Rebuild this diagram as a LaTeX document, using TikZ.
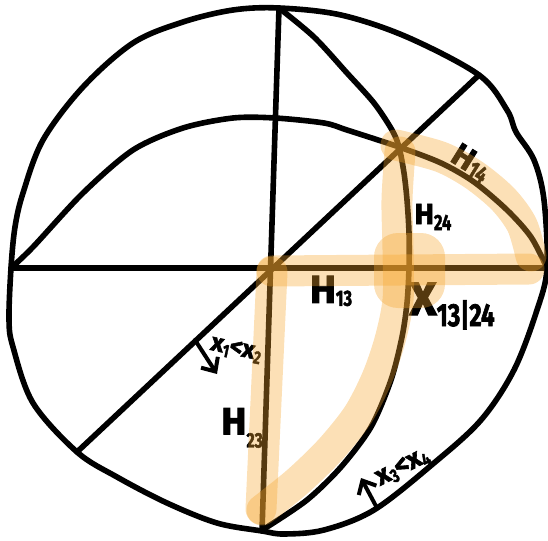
\documentclass[tikz,border=0pt]{standalone}
\usepackage{fontspec}
\setmainfont{Fira Sans}[BoldFeatures={FakeBold=2.2}]
\usetikzlibrary{arrows.meta}
\definecolor{hlc}{RGB}{245,165,45}
\newcommand\mk[2]{{\fontsize{#1}{#1}\selectfont #2}}
\newcommand\lsub[3]{\raisebox{-#1pt}{\scalebox{0.75}[1]{\fontsize{#2}{#2}\selectfont #3}}}
\begin{document}
\begin{tikzpicture}[x=1pt,y=-1pt,
  ink/.style={line width=5.6pt, line cap=round, line join=round},
  band/.style={draw=hlc, draw opacity=0.35, line width=31pt, line cap=round, line join=round},
  lab/.style={inner sep=0pt, font=\bfseries},
  note/.style={line width=4pt, line cap=round, -{Straight Barb[length=11pt,width=20pt,line width=4pt]}}
]
\useasboundingbox (0,0) rectangle (548,540);
% key points
\coordinate (T) at (279,8);
\coordinate (B) at (262,531);
\coordinate (L) at (11,268);
\coordinate (R) at (547,268);
\coordinate (O) at (271,268);
\coordinate (D1) at (479,75);
\coordinate (D2) at (77,452);
\coordinate (P) at (399,147);
\coordinate (X) at (409,268);
\coordinate (a1) at (195,340);
\coordinate (a2) at (217,374);
\coordinate (b1) at (377,508);
\coordinate (b2) at (361,478);
% outer circle
\draw[ink] plot[smooth cycle, tension=0.55] coordinates {(279,8) (341,15) (407,37) (479,75) (507,110) (516,132) (534,160) (544,200) (547,268) (537,310) (514,370) (481,420) (434,463) (374,510) (324,530) (284,534) (262,531) (217,523) (167,503) (117,477) (77,452) (33,403) (13,347) (9,320) (11,268) (15,227) (23,193) (43,140) (83,87) (133,43) (183,22) (233,10)};
% straight lines
\draw[ink] (L) -- (R);
\draw[ink] (T) -- (B);
\draw[ink] (D1) -- (D2);
% H14 curve
\draw[ink] plot[smooth, tension=0.5] coordinates {(11,268) (33,247) (83,193) (133,150) (183,128) (233,118) (275,118) (324,123) (347,130) (399,147) (441,163) (474,182) (507,210) (531,237) (547,268)};
% H24 curve
\draw[ink] plot[smooth, tension=0.5] coordinates {(279,8) (314,37) (347,73) (374,103) (392,130) (399,147) (404,173) (407,200) (409,233) (409,268) (407,303) (402,337) (391,380) (371,427) (341,467) (307,500) (267,527)};
% inequality arrows
\draw[note] (a1) -- (a2);
\draw[note] (b1) -- (b2);
% labels
\node[lab] (h13) at (331,291) {\mk{39}{H}\lsub{3}{22}{13}};
\node[lab] (x1324) at (452,306) {\mk{47}{X}\lsub{11}{32}{13|24}};
\node[lab] (h24) at (433,217) {\mk{29}{H}\lsub{6}{22}{24}};
\node[lab, rotate=-32] (h14) at (471,163) {\mk{32}{H}\lsub{3}{24}{14}};
\node[lab] (h23) at (242,428) {\mk{38}{H}\lsub{13}{21}{23}};
\node[lab, rotate=-12] (x12) at (236,350) {\mk{25}{x}\lsub{4}{18}{1}\mk{25}{<}\mk{25}{x}\lsub{4}{18}{2}};
\node[lab, rotate=27] (x34) at (403,468) {\mk{27}{x}\lsub{4}{19}{3}\mk{27}{<}\mk{27}{x}\lsub{4}{19}{4}};
% highlights
\draw[band] (272,271) -- (529,269);
\draw[band] (272,272) -- (261,509);
\draw[band] plot[smooth, tension=0.5] coordinates {(400,152) (397,200) (398,250) (398,300) (390,340) (377,378) (358,415) (330,450) (297,482) (262,510)};
\draw[band] plot[smooth, tension=0.5] coordinates {(396,145) (441,157) (474,175) (503,199) (522,225) (531,256)};
\fill[hlc, fill opacity=0.35, rounded corners=24pt] (374,233) rectangle (445,308);
\end{tikzpicture}
\end{document}
